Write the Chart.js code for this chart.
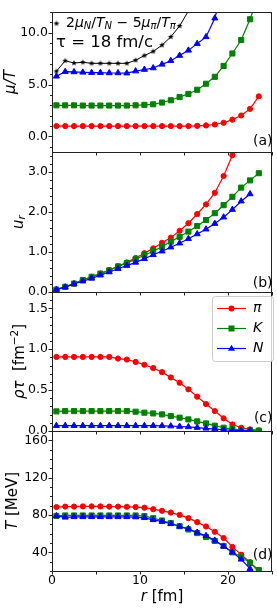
<!DOCTYPE html>
<html>
<head>
<meta charset="utf-8">
<script src="https://cdn.jsdelivr.net/npm/chart.js@4.4.0/dist/chart.umd.min.js"></script>
<style>
html, body { margin: 0; padding: 0; background: #fff; }
#wrap { position: relative; width: 277px; height: 608px; }
#wrap canvas { position: absolute; left: 0; top: 0; }
</style>
</head>
<body>
<div id="wrap">
<canvas id="pa" width="277" height="608"></canvas>
<canvas id="pb" width="277" height="608"></canvas>
<canvas id="pc" width="277" height="608"></canvas>
<canvas id="pd" width="277" height="608"></canvas>
</div>
<script>
// radial positions (fm)
var r = [0.5, 1.5, 2.5, 3.5, 4.5, 5.5, 6.5, 7.5, 8.5, 9.5, 10.5, 11.5,
         12.5, 13.5, 14.5, 15.5, 16.5, 17.5, 18.5, 19.5, 20.5, 21.5, 22.5, 23.5];

// (a) mu/T
var muPi = [1.0, 1.0, 1.0, 1.0, 1.0, 1.0, 1.0, 1.0, 1.0, 1.0, 1.0, 1.0,
            1.0, 1.0, 1.0, 1.0, 1.02, 1.06, 1.15, 1.32, 1.62, 2.02, 2.66, 3.87];
var muK = [3.0, 3.0, 3.0, 2.98, 2.98, 2.98, 2.98, 2.98, 2.98, 3.0, 3.05, 3.1,
           3.27, 3.49, 3.8, 4.1, 4.5, 5.08, 5.75, 6.8, 8.0, 9.3, 11.3, 13.6];
var muN = [5.8, 6.25, 6.22, 6.18, 6.15, 6.15, 6.12, 6.12, 6.1, 6.3, 6.45, 6.6,
           6.95, 7.3, 7.8, 8.3, 8.95, 9.6, 11.4, 14.5];
var muComb = [6.28, 7.3, 7.08, 7.15, 7.05, 7.05, 7.05, 7.05, 7.05, 7.35, 7.8, 8.2,
              8.8, 9.6, 10.65, 12.1, 14.0];

// (b) u_r
var urPi = [0.06, 0.13, 0.21, 0.3, 0.38, 0.46, 0.55, 0.64, 0.74, 0.85, 0.97, 1.09,
            1.23, 1.36, 1.53, 1.72, 1.95, 2.19, 2.48, 2.9, 3.42, 4.1];
var urK = [0.06, 0.13, 0.21, 0.3, 0.38, 0.46, 0.54, 0.64, 0.72, 0.82, 0.92, 1.02,
           1.13, 1.26, 1.38, 1.51, 1.65, 1.8, 1.97, 2.17, 2.38, 2.61, 2.79, 2.97];
var urN = [0.06, 0.12, 0.2, 0.27, 0.34, 0.42, 0.5, 0.58, 0.66, 0.74, 0.83, 0.93,
           1.02, 1.12, 1.22, 1.33, 1.45, 1.57, 1.71, 1.87, 2.06, 2.27, 2.45];

// (c) rho*tau
var rhoPi = [0.906, 0.906, 0.906, 0.906, 0.906, 0.906, 0.906, 0.886, 0.874, 0.845, 0.81, 0.77,
             0.72, 0.655, 0.59, 0.51, 0.42, 0.33, 0.244, 0.155, 0.08, 0.04, 0.02, 0.008];
var rhoK = [0.24, 0.244, 0.244, 0.244, 0.244, 0.244, 0.244, 0.244, 0.244, 0.236, 0.224, 0.215,
            0.203, 0.183, 0.163, 0.142, 0.118, 0.093, 0.065, 0.04, 0.024, 0.012, 0.008, 0.004];
var rhoN = [0.065, 0.065, 0.065, 0.065, 0.065, 0.065, 0.065, 0.065, 0.065, 0.065, 0.065, 0.065,
            0.063, 0.06, 0.055, 0.05, 0.042, 0.033, 0.024, 0.015, 0.008, 0.004, 0.002];

// (d) T (MeV)
var tPi = [88.5, 89, 89, 89.2, 89.2, 89.2, 89, 89, 88.8, 88.5, 87.8, 86.2,
           84.5, 82.6, 80.1, 76.6, 72.4, 67.7, 62, 55.3, 45.8, 37.5, 29.5, 19];
var tK = [79, 79.5, 79.5, 79.5, 79.5, 79.5, 79.5, 79.5, 79.5, 79.5, 78.8, 76.6,
          74.1, 71.3, 68, 64.5, 60.6, 56.4, 52.2, 46.8, 40, 35.3, 28.7, 21];
var tN = [79, 77.5, 78, 78, 78, 78, 78, 78, 78, 77.8, 77, 74.8,
          73, 70.6, 67.7, 65.2, 61.3, 57.8, 52.8, 46.4, 40, 32.5, 22.5];

var xTicks = [0, 5, 10, 15, 20, 25];
var xLabels = [0, 10, 20];

var FONT = '"DejaVu Sans", sans-serif';

function pts(vals) {
  return vals.map(function(v, i) { return {x: r[i], y: v}; });
}

function starMarker(R) {
  var s = Math.ceil(R * 2) + 2;
  var c = document.createElement('canvas');
  c.width = s; c.height = s;
  var g = c.getContext('2d');
  g.beginPath();
  for (var i = 0; i < 10; i++) {
    var rr = (i % 2) ? R * 0.45 : R;
    var ang = -Math.PI / 2 + i * Math.PI / 5;
    g.lineTo(s / 2 + rr * Math.cos(ang), s / 2 + rr * Math.sin(ang));
  }
  g.closePath();
  g.fillStyle = '#000';
  g.fill();
  return c;
}
var star = starMarker(3);

function series(vals, color, style, rad) {
  return {
    data: pts(vals),
    borderColor: color,
    backgroundColor: color,
    borderWidth: 1.2,
    pointStyle: style,
    pointRadius: rad,
    pointBorderWidth: 1,
    pointBorderColor: color,
    pointBackgroundColor: color,
    tension: 0
  };
}

function rich(ctx, parts, x, y, align) {
  var w = 0;
  parts.forEach(function(p) {
    ctx.font = (p[2] ? 'italic ' : '') + p[1] + 'px ' + FONT;
    w += ctx.measureText(p[0]).width;
  });
  var cx = x;
  if (align === 'center') cx = x - w / 2;
  if (align === 'right') cx = x - w;
  ctx.textBaseline = 'middle';
  ctx.textAlign = 'left';
  ctx.fillStyle = '#000';
  parts.forEach(function(p) {
    ctx.font = (p[2] ? 'italic ' : '') + p[1] + 'px ' + FONT;
    ctx.fillText(p[0], cx, y + (p[3] || 0));
    cx += ctx.measureText(p[0]).width;
  });
}

function marker(ctx, style, color, x, y) {
  ctx.fillStyle = color;
  ctx.beginPath();
  if (style === 'circle') {
    ctx.arc(x, y, 3, 0, Math.PI * 2);
  } else if (style === 'rect') {
    ctx.rect(x - 3, y - 3, 6, 6);
  } else {
    ctx.moveTo(x, y - 3.8);
    ctx.lineTo(x + 3.5, y + 2.3);
    ctx.lineTo(x - 3.5, y + 2.3);
    ctx.closePath();
  }
  ctx.fill();
}

function decor(cfg) {
  return {
    id: 'decor',
    afterDraw: function(chart) {
      var ctx = chart.ctx, a = chart.chartArea;
      var ys = chart.scales.y, xs = chart.scales.x;
      ctx.save();
      ctx.strokeStyle = '#222';
      ctx.lineWidth = 1;
      ctx.beginPath();
      // y ticks, major and minor
      var k0 = Math.ceil(ys.min / cfg.minor - 1e-6), k1 = Math.floor(ys.max / cfg.minor + 1e-6);
      for (var k = k0; k <= k1; k++) {
        var v = k * cfg.minor;
        var major = cfg.majors.some(function(m) { return Math.abs(m - v) < 1e-6; });
        var len = major ? 3.5 : 2;
        var py = Math.round(ys.getPixelForValue(v)) + 0.5;
        ctx.moveTo(a.left - len, py);
        ctx.lineTo(a.left, py);
      }
      xTicks.forEach(function(v) {
        var px = Math.round(xs.getPixelForValue(v)) + 0.5;
        ctx.moveTo(px, a.bottom);
        ctx.lineTo(px, a.bottom + 3.5);
      });
      ctx.stroke();
      ctx.strokeRect(a.left + 0.5, a.top + 0.5, a.right - a.left - 1, a.bottom - a.top);

      // y title
      ctx.save();
      ctx.translate(cfg.titleX, (a.top + a.bottom) / 2 + (cfg.titleDy || 0));
      ctx.rotate(-Math.PI / 2);
      rich(ctx, cfg.title, 0, 0, 'center');
      ctx.restore();

      // panel letter
      rich(ctx, [[cfg.letter, 14, false]], 272.5, cfg.letterY, 'right');

      if (cfg.extra) cfg.extra(ctx, a);
      ctx.restore();
    }
  };
}

function makePanel(id, datasets, yMin, yMax, majors, minor, fmt, padTop, padBottom, showX, cfg) {
  cfg.majors = majors;
  cfg.minor = minor;
  return new Chart(document.getElementById(id), {
    type: 'line',
    data: {datasets: datasets},
    options: {
      responsive: false,
      animation: false,
      devicePixelRatio: 1,
      events: [],
      layout: {padding: {top: padTop, bottom: padBottom, left: 0, right: 2}},
      plugins: {legend: {display: false}, tooltip: {enabled: false}},
      scales: {
        x: {
          type: 'linear', min: 0, max: 25, display: showX,
          afterBuildTicks: function(s) { s.ticks = xTicks.map(function(v) { return {value: v}; }); },
          ticks: {
            autoSkip: false, maxRotation: 0, padding: 2, color: '#000',
            font: {family: FONT, size: 12.5},
            callback: function(v) { return xLabels.indexOf(v) >= 0 ? String(v) : ''; }
          },
          grid: {display: false, drawTicks: false},
          border: {display: false},
          afterFit: function(s) { s.height = showX ? 37 : 0; }
        },
        y: {
          min: yMin, max: yMax,
          afterBuildTicks: function(s) { s.ticks = majors.map(function(v) { return {value: v}; }); },
          ticks: {padding: 4, color: '#000', font: {family: FONT, size: 12.5}, callback: fmt},
          grid: {display: false, drawTicks: false},
          border: {display: false},
          afterFit: function(s) { s.width = 52; }
        }
      }
    },
    plugins: [decor(cfg)]
  });
}

var f1 = function(v) { return v.toFixed(1); };
var f0 = function(v) { return String(v); };

var comb = series(muComb, '#000', star, 3);
comb.borderWidth = 1;

makePanel('pa', [
  comb,
  series(muN, '#0000ff', 'triangle', 3.5),
  series(muK, '#008000', 'rect', 3.6),
  series(muPi, '#ff0000', 'circle', 2.6)
], -1.5, 12, [0, 5, 10], 1, f1, 12, 456, false, {
  title: [['μ/T', 15, true]], titleX: 11, letter: '(a)', letterY: 141.5,
  extra: function(ctx, a) {
    ctx.drawImage(star, 56.5 - star.width / 2, 23.5 - star.height / 2);
    rich(ctx, [['2', 14, false], ['μ', 14, true], ['N', 10, true, 3.5], ['/', 14, false], ['T', 14, true], ['N', 10, true, 3.5],
               [' − 5', 14, false], ['μ', 14, true], ['π', 10, true, 3.5], ['/', 14, false], ['T', 14, true], ['π', 10, true, 3.5]],
         66, 23, 'left');
    rich(ctx, [['τ = 18 fm/c', 16.5, false]], 56, 43, 'left');
  }
});

makePanel('pb', [
  series(urN, '#0000ff', 'triangle', 3.5),
  series(urK, '#008000', 'rect', 3.6),
  series(urPi, '#ff0000', 'circle', 2.6)
], 0, 3.5, [0, 1, 2, 3], 0.2, f1, 152, 316, false, {
  title: [['u', 15, true], ['r', 10.5, true, 3.5]], titleX: 19, letter: '(b)', letterY: 283.5
});

var legendRows = [['π', '#ff0000', 'circle'], ['K', '#008000', 'rect'], ['N', '#0000ff', 'triangle']];

makePanel('pc', [
  series(rhoN, '#0000ff', 'triangle', 3.5),
  series(rhoK, '#008000', 'rect', 3.6),
  series(rhoPi, '#ff0000', 'circle', 2.6)
], 0, 1.7, [0, 0.5, 1.0, 1.5], 0.1, f1, 292, 177, false, {
  title: [['ρτ', 15, true], ['  [fm', 15, false], ['−2', 10.5, false, -5], [']', 15, false]],
  titleX: 20, letter: '(c)', letterY: 418,
  extra: function(ctx, a) {
    ctx.fillStyle = 'rgba(255,255,255,0.8)';
    ctx.strokeStyle = '#cccccc';
    ctx.beginPath();
    ctx.roundRect(212.5, 296.5, 61, 65, 3);
    ctx.fill();
    ctx.stroke();
    legendRows.forEach(function(row, i) {
      var y = 308.5 + i * 20;
      ctx.strokeStyle = row[1];
      ctx.lineWidth = 1.2;
      ctx.beginPath();
      ctx.moveTo(217, y);
      ctx.lineTo(246, y);
      ctx.stroke();
      marker(ctx, row[2], row[1], 231.5, y);
      rich(ctx, [[row[0], 14, true]], 253, y, 'left');
    });
  }
});

makePanel('pd', [
  series(tN, '#0000ff', 'triangle', 3.5),
  series(tK, '#008000', 'rect', 3.6),
  series(tPi, '#ff0000', 'circle', 2.6)
], 20, 170, [40, 80, 120, 160], 10, f0, 431, 0, true, {
  title: [['T', 15, true], [' [MeV]', 15, false]], titleX: 13, letter: '(d)', letterY: 555.5,
  extra: function(ctx, a) {
    rich(ctx, [['r', 15, true], [' [fm]', 15, false]], (a.left + a.right) / 2, 597, 'center');
  }
});
</script>
</body>
</html>
